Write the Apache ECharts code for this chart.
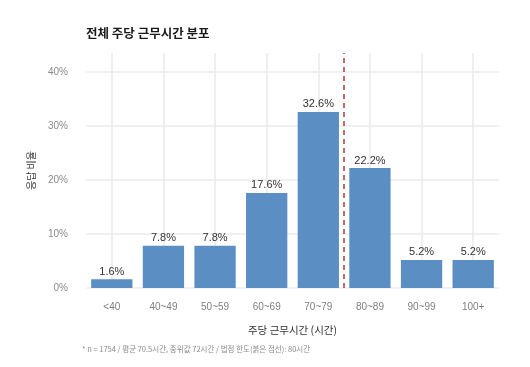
<!DOCTYPE html>
<html><head><meta charset="utf-8">
<script src="https://cdn.jsdelivr.net/npm/echarts@6/dist/echarts.min.js"></script>
<style>html,body{margin:0;padding:0;background:#fff}#c{width:530px;height:367px}</style>
</head><body><div id="c"></div>
<script>
const categories = ['<40','40~49','50~59','60~69','70~79','80~89','90~99','100+'];
const shares = [1.6, 7.8, 7.8, 17.6, 32.6, 22.2, 5.2, 5.2];
const yTicks = [0, 10, 20, 30, 40];
const limitCategory = '80~89';
const titleText = '전체 주당 근무시간 분포';
const xName = '주당 근무시간 (시간)';
const yName = '응답 비율';
const footnote = '* n = 1754 / 평균 70.5시간, 중위값 72시간 / 법정 한도(붉은 점선): 80시간';

const KR = '"Noto Sans CJK KR", "Noto Sans", sans-serif';
const LAT = '"Liberation Sans", Arial, sans-serif';
const grid = {left: 86, right: 31, top: 53, bottom: 79};
const limitPos = categories.indexOf(limitCategory);

const chart = echarts.init(document.getElementById('c'), null, {renderer: 'canvas'});
chart.setOption({
  animation: false,
  backgroundColor: '#fff',
  title: {
    text: titleText, left: 81, top: 22,
    textStyle: {fontFamily: KR, fontSize: 12.5, fontWeight: 'bold', color: '#1a1a1a'}
  },
  graphic: [{
    type: 'text', left: 82, top: 345,
    style: {text: footnote, font: '7.5px ' + KR, fill: '#8a8a8a'}
  }],
  grid: grid,
  xAxis: [{
    type: 'category', data: categories,
    axisLine: {show: false}, axisTick: {show: false},
    axisLabel: {color: '#7f7f7f', fontFamily: LAT, fontSize: 10, margin: 14},
    name: xName, nameLocation: 'middle', nameGap: 37,
    nameTextStyle: {fontFamily: KR, fontSize: 10.5, color: '#333'}
  }, {
    type: 'value', min: 0, max: categories.length, show: false
  }],
  yAxis: {
    type: 'value', min: 0, max: 43.5, interval: 10,
    axisLine: {show: false}, axisTick: {show: false},
    splitLine: {show: false},
    axisLabel: {
      color: '#8a8a8a', fontFamily: LAT, fontSize: 10, margin: 18,
      formatter: v => (yTicks.includes(v) ? v + '%' : '')
    },
    name: yName, nameLocation: 'middle', nameGap: 50,
    nameTextStyle: {fontFamily: KR, fontSize: 10, color: '#333'}
  },
  series: [{
    type: 'line', data: [], silent: true, z: 0,
    markLine: {
      silent: true, symbol: 'none', label: {show: false}, z: 0,
      lineStyle: {color: '#ebebeb', width: 1.6, type: 'solid'},
      data: yTicks.map(v => ({yAxis: v})).concat(categories.map(c => ({xAxis: c})))
    }
  }, {
    type: 'bar', data: shares, z: 3,
    barCategoryGap: '20%',
    itemStyle: {color: '#5b8fc3'},
    label: {
      show: true, position: 'top', distance: 2,
      formatter: p => p.value.toFixed(1) + '%',
      color: '#333', fontFamily: LAT, fontSize: 11
    }
  }, {
    type: 'line', data: [], xAxisIndex: 1, silent: true, z: 5,
    markLine: {
      silent: true, symbol: 'none', label: {show: false}, z: 6,
      lineStyle: {color: '#b23a3a', width: 1.5, type: [5, 4]},
      data: [{xAxis: limitPos}]
    }
  }]
});
</script></body></html>
